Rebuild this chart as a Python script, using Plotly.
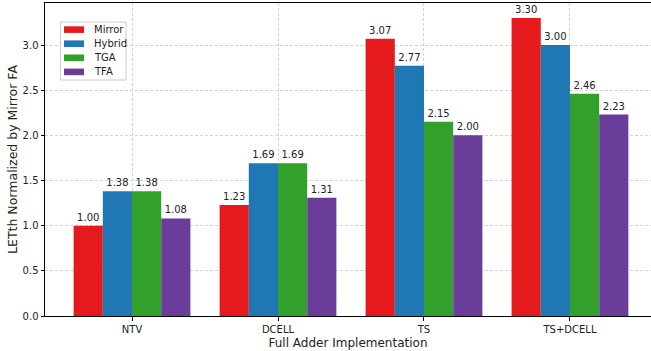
import plotly.graph_objects as go

# Normalized LETth per full adder implementation
implementations = ["NTV", "DCELL", "TS", "TS+DCELL"]
mirror = [1.00, 1.23, 3.07, 3.30]
hybrid = [1.38, 1.69, 2.77, 3.00]
tga = [1.38, 1.69, 2.15, 2.46]
tfa = [1.08, 1.31, 2.00, 2.23]

series = [
    ("Mirror", mirror, "#e41a1c"),
    ("Hybrid", hybrid, "#1f77b4"),
    ("TGA", tga, "#33a02c"),
    ("TFA", tfa, "#6a3d9a"),
]

positions = list(range(len(implementations)))
font_family = "DejaVu Sans"
text_color = "#222222"

W, H = 651, 351
M_L, M_R, M_T, M_B = 45, 0, 3, 35
plot_w = W - M_L - M_R
plot_h = H - M_T - M_B


def px_x(px):
    """Horizontal pixel offset in the figure -> paper coordinate."""
    return (px - M_L) / plot_w


def px_y(py):
    """Vertical pixel offset in the figure -> paper coordinate."""
    return (H - M_B - py) / plot_h


fig = go.Figure()
for name, values, color in series:
    fig.add_trace(go.Bar(
        name=name,
        x=positions,
        y=values,
        marker=dict(color=color, line=dict(width=0)),
        texttemplate="%{y:.2f}",
        textposition="outside",
        textfont=dict(family=font_family, size=10, color=text_color),
        constraintext="none",
        cliponaxis=False,
        showlegend=False,
    ))

# Compact legend box in the upper-left corner
shapes = [dict(
    type="rect", xref="paper", yref="paper",
    x0=px_x(60.5), x1=px_x(126), y0=px_y(80), y1=px_y(22),
    line=dict(color="#cccccc", width=1), fillcolor="rgba(255,255,255,0.85)",
    layer="above",
)]
annotations = []
row_top, row_step = 29.6, 14.1
for i, (name, _, color) in enumerate(series):
    cy = row_top + i * row_step
    shapes.append(dict(
        type="rect", xref="paper", yref="paper",
        x0=px_x(64), x1=px_x(84), y0=px_y(cy + 3.3), y1=px_y(cy - 3.3),
        line=dict(width=0), fillcolor=color, layer="above",
    ))
    annotations.append(dict(
        xref="paper", yref="paper", x=px_x(91.5), y=px_y(cy),
        xanchor="left", yanchor="middle", showarrow=False, text=name,
        font=dict(family=font_family, size=10, color=text_color),
    ))

fig.update_layout(
    width=W,
    height=H,
    margin=dict(l=M_L, r=M_R, t=M_T, b=M_B),
    paper_bgcolor="white",
    plot_bgcolor="white",
    barmode="group",
    bargap=0.2,
    bargroupgap=0,
    font=dict(family=font_family, color=text_color),
    showlegend=False,
    shapes=shapes,
    annotations=annotations,
)

fig.update_xaxes(
    range=[-0.596, 3.555],
    tickmode="array",
    tickvals=positions,
    ticktext=implementations,
    tickfont=dict(size=10),
    ticks="outside", ticklen=3.5, tickwidth=0.8, tickcolor="black",
    showline=True, linecolor="black", linewidth=1, mirror=True,
    showgrid=True, gridcolor="#d3d3d3", gridwidth=0.8, griddash="3px,2px",
    zeroline=False,
    title=dict(text="Full Adder Implementation", font=dict(size=12), standoff=5),
    automargin=False,
)

fig.update_yaxes(
    range=[0, 3.465],
    tickmode="array",
    tickvals=[0, 0.5, 1.0, 1.5, 2.0, 2.5, 3.0],
    tickformat=".1f",
    tickfont=dict(size=10),
    ticks="outside", ticklen=3.5, tickwidth=0.8, tickcolor="black",
    showline=True, linecolor="black", linewidth=1,
    showgrid=True, gridcolor="#d3d3d3", gridwidth=0.8, griddash="3px,2px",
    zeroline=False,
    title=dict(text="LETth Normalized by Mirror FA", font=dict(size=12.5), standoff=2),
    automargin=False,
)

fig.write_html("out.html")
